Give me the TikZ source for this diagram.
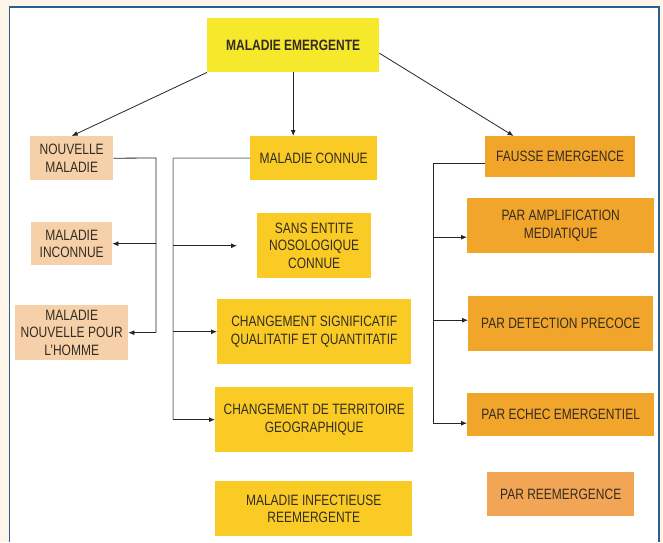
\documentclass[tikz,border=0pt]{standalone}
\usepackage{fontspec}
\setmainfont{Liberation Sans}[FakeStretch=0.8]
\usetikzlibrary{arrows.meta,calc}

\definecolor{cream}{HTML}{FDF5E8}
\definecolor{panelblue}{HTML}{2C5F8F}
\definecolor{topyellow}{HTML}{F6E92B}
\definecolor{boxyellow}{HTML}{FBCB25}
\definecolor{boxpeach}{HTML}{F5D0A9}
\definecolor{boxorange}{HTML}{F2A52B}
\definecolor{boxlight}{HTML}{F2A655}
\definecolor{txt}{HTML}{332C22}

\tikzset{
  box/.style={anchor=north west, align=center, inner sep=0pt, text=txt,
    font=\fontsize{15}{17.5}\selectfont},
  arr/.style={-{Latex[length=6pt,width=5pt]}, line width=0.8pt, black!85},
  bar/.style={line width=0.8pt, black!85},
  greybar/.style={line width=1pt, black!50},
}

\begin{document}
\begin{tikzpicture}[x=1pt,y=-1pt]
    \useasboundingbox (0,0) rectangle (663,542);
    \fill[cream] (0,0) rectangle (663,542);
    \fill[white] (9.5,7) rectangle (659,542);
    \draw[panelblue,line width=1.8pt] (9.5,542) -- (9.5,7) -- (659,7) -- (659,542);

    % top box
    \node[box,fill=topyellow,minimum width=172,minimum height=54,
      font=\fontsize{15}{17.5}\selectfont\bfseries] (me) at (207,18) {MALADIE EMERGENTE};

    % left column
    \node[box,fill=boxpeach,minimum width=83,minimum height=44] (nm) at (30,136) {NOUVELLE\\MALADIE};
    \node[box,fill=boxpeach,minimum width=81,minimum height=43] (mi) at (31,222) {MALADIE\\INCONNUE};
    \node[box,fill=boxpeach,minimum width=113,minimum height=55] (mnh) at (15,305) {MALADIE\\NOUVELLE POUR\\L'HOMME};

    % middle column
    \node[box,fill=boxyellow,minimum width=127,minimum height=44] (mc) at (250,136) {MALADIE CONNUE};
    \node[box,fill=boxyellow,minimum width=114,minimum height=65] (se) at (257,213) {SANS ENTITE\\NOSOLOGIQUE\\CONNUE};
    \node[box,fill=boxyellow,minimum width=194,minimum height=65] (cs) at (217,299) {CHANGEMENT SIGNIFICATIF\\QUALITATIF ET QUANTITATIF};
    \node[box,fill=boxyellow,minimum width=198,minimum height=65] (ct) at (215,387) {CHANGEMENT DE TERRITOIRE\\GEOGRAPHIQUE};
    \node[box,fill=boxyellow,minimum width=197,minimum height=55] (mir) at (215,481) {MALADIE INFECTIEUSE\\REEMERGENTE};

    % right column
    \node[box,fill=boxorange,minimum width=150,minimum height=41] (fe) at (485,136) {FAUSSE EMERGENCE};
    \node[box,fill=boxorange,minimum width=187,minimum height=55] (pa) at (467,198) {PAR AMPLIFICATION\\MEDIATIQUE};
    \node[box,fill=boxorange,minimum width=185,minimum height=55] (pd) at (468,296) {PAR DETECTION PRECOCE};
    \node[box,fill=boxorange,minimum width=187,minimum height=43] (pe) at (467,393) {PAR ECHEC EMERGENTIEL};
    \node[box,fill=boxlight,minimum width=147,minimum height=44] (pr) at (487,472) {PAR REEMERGENCE};

    % from the top box
    \draw[arr] (me.south west) -- (nm.north);
    \draw[arr] (me.south) -- (me.south |- mc.north);
    \draw[arr] ([yshift=-8pt]me.east) -- ($(fe.north west)!0.19!(fe.north east)$);

    % left bracket
    \coordinate (lb) at (156,158);
    \draw[bar] (nm.east) -- (lb) -- (lb |- mnh.east);
    \draw[arr] (lb |- mi.east) -- (mi.east);
    \draw[arr] (lb |- mnh.east) -- (mnh.east);

    % middle bracket
    \coordinate (mb) at (173,158);
    \coordinate (sein) at ([xshift=-20pt]se.west);
    \draw[greybar] (mc.west) -- (mb) -- (mb |- ct.west);
    \draw[arr] (mb |- sein) -- (sein);
    \draw[arr] (mb |- cs.west) -- (cs.west);
    \draw[arr] (mb |- ct.west) -- (ct.west);

    % right bracket
    \coordinate (rb) at (433,163);
    \coordinate (pain) at ([yshift=-11.5pt]pa.west);
    \coordinate (pdin) at ([yshift=3.5pt]pd.west);
    \coordinate (pein) at ([yshift=-8.5pt]pe.west);
    \draw[bar] (fe.west |- rb) -- (rb) -- (rb |- pein);
    \draw[arr] (rb |- pain) -- (pain);
    \draw[arr] (rb |- pdin) -- (pdin);
    \draw[arr] (rb |- pein) -- (pein);
\end{tikzpicture}
\end{document}
